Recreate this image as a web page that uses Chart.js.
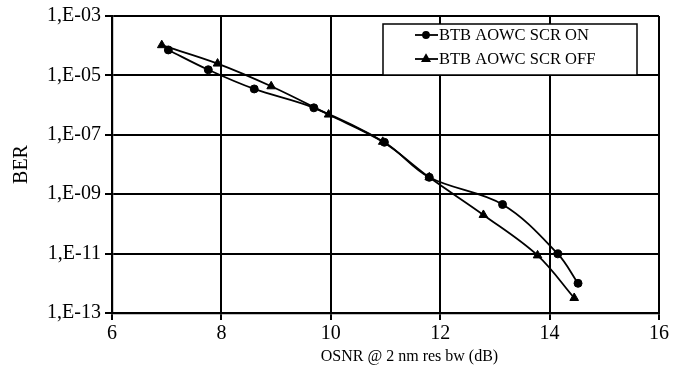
<!DOCTYPE html>
<html>
<head>
<meta charset="utf-8">
<script src="https://cdn.jsdelivr.net/npm/chart.js@4.4.0/dist/chart.umd.min.js"></script>
<style>
  body { margin: 0; background: #fff; }
  #wrap { width: 679px; height: 377px; }
</style>
</head>
<body>
<div id="wrap"><canvas id="berChart" width="679" height="377"></canvas></div>
<script>
// values
var osnrOn  = [7.03, 7.76, 8.60, 9.69, 10.98, 11.80, 13.14, 14.15, 14.52];
var berOn   = [7.2e-5, 1.55e-5, 3.5e-6, 8.1e-7, 5.6e-8, 3.7e-9, 4.5e-10, 9.8e-12, 1.0e-12];
var osnrOff = [6.91, 7.93, 8.91, 9.96, 10.95, 11.80, 12.79, 13.78, 14.45];
var berOff  = [1.04e-4, 2.5e-5, 4.3e-6, 4.8e-7, 5.8e-8, 3.7e-9, 2.0e-10, 8.7e-12, 3.2e-13];
var berTicks = [1e-13, 1e-11, 1e-9, 1e-7, 1e-5, 1e-3];
var seriesNames = ['BTB AOWC SCR ON', 'BTB AOWC SCR OFF'];
var xTitle = 'OSNR @ 2 nm res bw (dB)';
var yTitle = 'BER';

var serif = '"Liberation Serif", "Times New Roman", serif';

function toPoints(xs, ys) {
  return xs.map(function (x, i) { return { x: x, y: ys[i] }; });
}

// legend box inside the plot, like the original
var boxLegend = {
  id: 'boxLegend',
  afterDraw: function (chart) {
    var ctx = chart.ctx;
    var area = chart.chartArea;
    var left = area.right - 276, top = area.top + 8, w = 254, h = 51;
    ctx.save();
    ctx.fillStyle = '#fff';
    ctx.fillRect(left, top, w, h);
    ctx.strokeStyle = '#000';
    ctx.lineWidth = 1.5;
    ctx.strokeRect(left, top, w, h);
    ctx.font = '16.5px ' + serif;
    ctx.textBaseline = 'middle';
    ctx.fillStyle = '#000';
    chart.data.datasets.forEach(function (ds, i) {
      var y = top + 11 + i * 24;
      ctx.beginPath();
      ctx.lineWidth = 1.8;
      ctx.moveTo(left + 32, y);
      ctx.lineTo(left + 55, y);
      ctx.stroke();
      Chart.helpers.drawPoint(ctx, {
        pointStyle: ds.pointStyle,
        radius: ds.pointRadius - 1,
        borderWidth: 1
      }, left + 43, y);
      ctx.fillStyle = '#000';
      ctx.fillText(ds.label, left + 56, y + 1);
    });
    ctx.restore();
  }
};

// x axis title sits a little right of the plot centre in the original
var xAxisTitle = {
  id: 'xAxisTitle',
  afterDraw: function (chart) {
    var ctx = chart.ctx;
    var area = chart.chartArea;
    ctx.save();
    ctx.font = '16px ' + serif;
    ctx.fillStyle = '#000';
    ctx.textAlign = 'center';
    ctx.textBaseline = 'middle';
    ctx.fillText(xTitle, (area.left + area.right) / 2 + 24, 357);
    ctx.restore();
  }
};

var ctx = document.getElementById('berChart').getContext('2d');
var berChart = new Chart(ctx, {
  type: 'line',
  data: {
    datasets: [
      {
        label: seriesNames[0],
        data: toPoints(osnrOn, berOn),
        borderColor: '#000',
        backgroundColor: '#000',
        borderWidth: 1.8,
        pointStyle: 'circle',
        pointRadius: 4,
        pointBorderWidth: 1,
        tension: 0.35
      },
      {
        label: seriesNames[1],
        data: toPoints(osnrOff, berOff),
        borderColor: '#000',
        backgroundColor: '#000',
        borderWidth: 1.8,
        pointStyle: 'triangle',
        pointRadius: 5,
        pointBorderWidth: 1,
        tension: 0.35
      }
    ]
  },
  options: {
    responsive: false,
    animation: false,
    layout: { padding: { top: 15, right: 20, left: 0, bottom: 0 } },
    plugins: {
      legend: { display: false },
      tooltip: { enabled: false }
    },
    scales: {
      x: {
        type: 'linear',
        min: 6,
        max: 16,
        afterFit: function (s) { s.height = 64; },
        ticks: {
          stepSize: 2,
          color: '#000',
          font: { family: serif, size: 20 },
          padding: 2
        },
        grid: { color: '#000', lineWidth: 2, tickLength: 7 },
        border: { color: '#000', width: 2.2 }
      },
      y: {
        type: 'logarithmic',
        min: 1e-13,
        max: 1e-3,
        afterFit: function (s) { s.width = 112; },
        afterBuildTicks: function (s) {
          s.ticks = berTicks.map(function (v) { return { value: v }; });
        },
        ticks: {
          autoSkip: false,
          color: '#000',
          font: { family: serif, size: 20 },
          padding: 4,
          callback: function (v) {
            var e = -Math.round(Math.log10(v));
            return '1,E-' + (e < 10 ? '0' + e : e);
          }
        },
        grid: { color: '#000', lineWidth: 2, tickLength: 7 },
        border: { color: '#000', width: 2.2 },
        title: {
          display: true,
          text: yTitle,
          color: '#000',
          font: { family: serif, size: 20 },
          padding: { top: 10, bottom: 0 }
        }
      }
    }
  },
  plugins: [boxLegend, xAxisTitle]
});
</script>
</body>
</html>
